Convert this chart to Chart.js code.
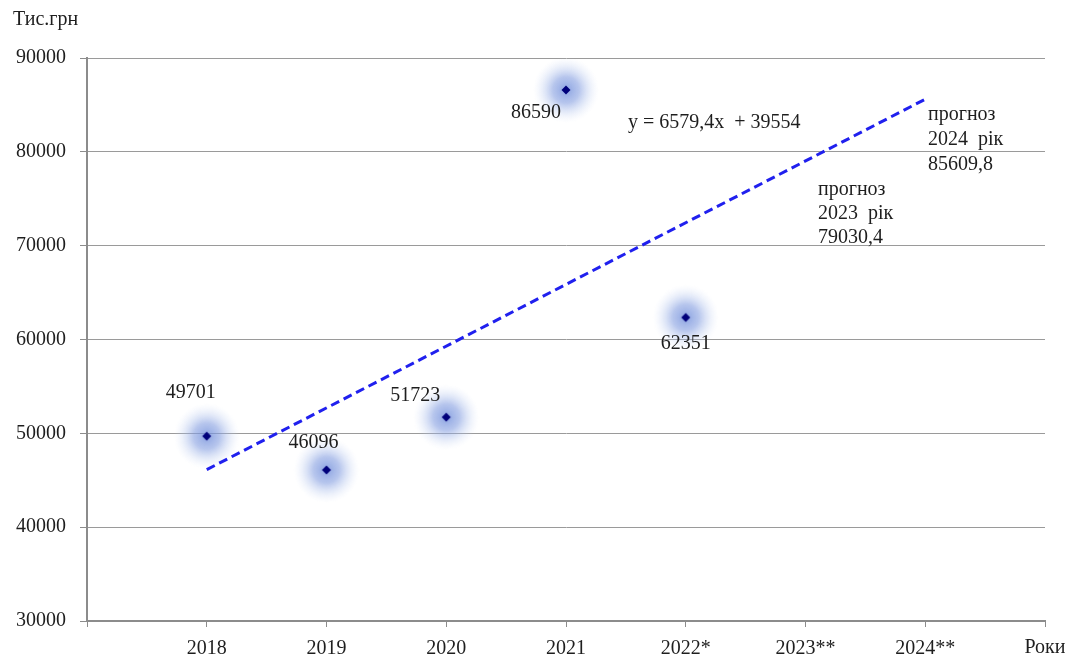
<!DOCTYPE html>
<html lang="uk">
<head>
<meta charset="UTF-8" />
<title>Прогноз</title>
<script src="https://cdn.jsdelivr.net/npm/chart.js"></script>
<style>
  body { margin: 0; background: #fff; }
</style>
</head>
<body>
<canvas id="chart" width="1067" height="659"></canvas>
<script>
const years = [2018, 2019, 2020, 2021, 2022, 2023, 2024];
const yearLabels = ['2018', '2019', '2020', '2021', '2022*', '2023**', '2024**'];
const actualYears = [2018, 2019, 2020, 2021, 2022];
const actualValues = [49701, 46096, 51723, 86590, 62351];
const trendYears = [2018, 2024];
const trendValues = [46133.4, 85609.8];
const yTicks = [30000, 40000, 50000, 60000, 70000, 80000, 90000];

const FONT = '"Liberation Serif", "Times New Roman", serif';
const TXT = '#1e1e1e';

// точка з розмитим ореолом
function glowMarker() {
  const c = document.createElement('canvas');
  c.width = 70; c.height = 70;
  const g = c.getContext('2d');
  const grad = g.createRadialGradient(35, 35, 0, 35, 35, 33);
  grad.addColorStop(0, 'rgba(110,140,218,0.8)');
  grad.addColorStop(0.4, 'rgba(135,160,225,0.6)');
  grad.addColorStop(0.7, 'rgba(170,190,235,0.28)');
  grad.addColorStop(1, 'rgba(215,225,248,0)');
  g.fillStyle = grad;
  g.fillRect(0, 0, 70, 70);
  g.fillStyle = '#00007a';
  g.beginPath();
  g.moveTo(35, 30.5); g.lineTo(39.5, 35); g.lineTo(35, 39.5); g.lineTo(30.5, 35);
  g.closePath(); g.fill();
  return c;
}

// зсув підпису відносно точки
const labelOffsets = [[-16, -43], [-13, -27], [-31, -21], [-30, 23], [0, 26]];

const textPlugin = {
  id: 'texts',
  afterDatasetsDraw(chart) {
    const ctx = chart.ctx;
    const xs = chart.scales.x, ys = chart.scales.y;
    ctx.save();
    ctx.fillStyle = TXT;
    ctx.font = '20px ' + FONT;
    ctx.textBaseline = 'middle';
    ctx.textAlign = 'center';
    actualValues.forEach((v, i) => {
      const px = xs.getPixelForValue(actualYears[i]);
      const py = ys.getPixelForValue(v);
      ctx.fillText(String(v), px + labelOffsets[i][0], py + labelOffsets[i][1]);
    });
    ctx.fillText('Роки', xs.getPixelForValue(2025), 648);
    ctx.textAlign = 'left';
    ctx.fillText('y = 6579,4x  + 39554', 628, 123);
    ['прогноз', '2024  рік', '85609,8'].forEach((t, i) => ctx.fillText(t, 928, 115 + i * 25));
    ['прогноз', '2023  рік', '79030,4'].forEach((t, i) => ctx.fillText(t, 818, 190 + i * 24));
    ctx.fillText('Тис.грн', 13, 20);
    ctx.restore();
  }
};

new Chart(document.getElementById('chart'), {
  type: 'scatter',
  data: {
    datasets: [
      {
        data: trendYears.map((x, i) => ({ x, y: trendValues[i] })),
        showLine: true,
        borderColor: '#2020ee',
        borderWidth: 3,
        borderDash: [9, 5],
        pointRadius: 0
      },
      {
        data: actualYears.map((x, i) => ({ x, y: actualValues[i] })),
        pointStyle: glowMarker(),
        showLine: false
      }
    ]
  },
  options: {
    responsive: false,
    animation: false,
    layout: { padding: { top: 58, right: 22, left: 0, bottom: 0 } },
    plugins: { legend: { display: false }, tooltip: { enabled: false } },
    scales: {
      x: {
        type: 'linear',
        min: 2017, max: 2025,
        afterBuildTicks: s => { s.ticks = [2017].concat(years, [2025]).map(v => ({ value: v })); },
        afterFit: s => { s.height = 38; },
        ticks: {
          font: { family: FONT, size: 20 },
          color: TXT,
          padding: 10,
          maxRotation: 0,
          autoSkip: false,
          callback: v => yearLabels[years.indexOf(v)] || ''
        },
        grid: { drawOnChartArea: false, drawTicks: true, tickLength: 6, color: '#8c8c8c' },
        border: { color: '#8c8c8c', width: 2 }
      },
      y: {
        min: 30000, max: 90000,
        afterBuildTicks: s => { s.ticks = yTicks.map(v => ({ value: v })); },
        afterFit: s => { s.width = 87; },
        ticks: {
          font: { family: FONT, size: 20 },
          color: TXT,
          padding: 14,
          callback: v => String(v)
        },
        grid: { color: '#9a9a9a', lineWidth: 1, tickLength: 7, tickColor: '#8c8c8c' },
        border: { color: '#8c8c8c', width: 2 }
      }
    }
  },
  plugins: [textPlugin]
});
</script>
</body>
</html>
